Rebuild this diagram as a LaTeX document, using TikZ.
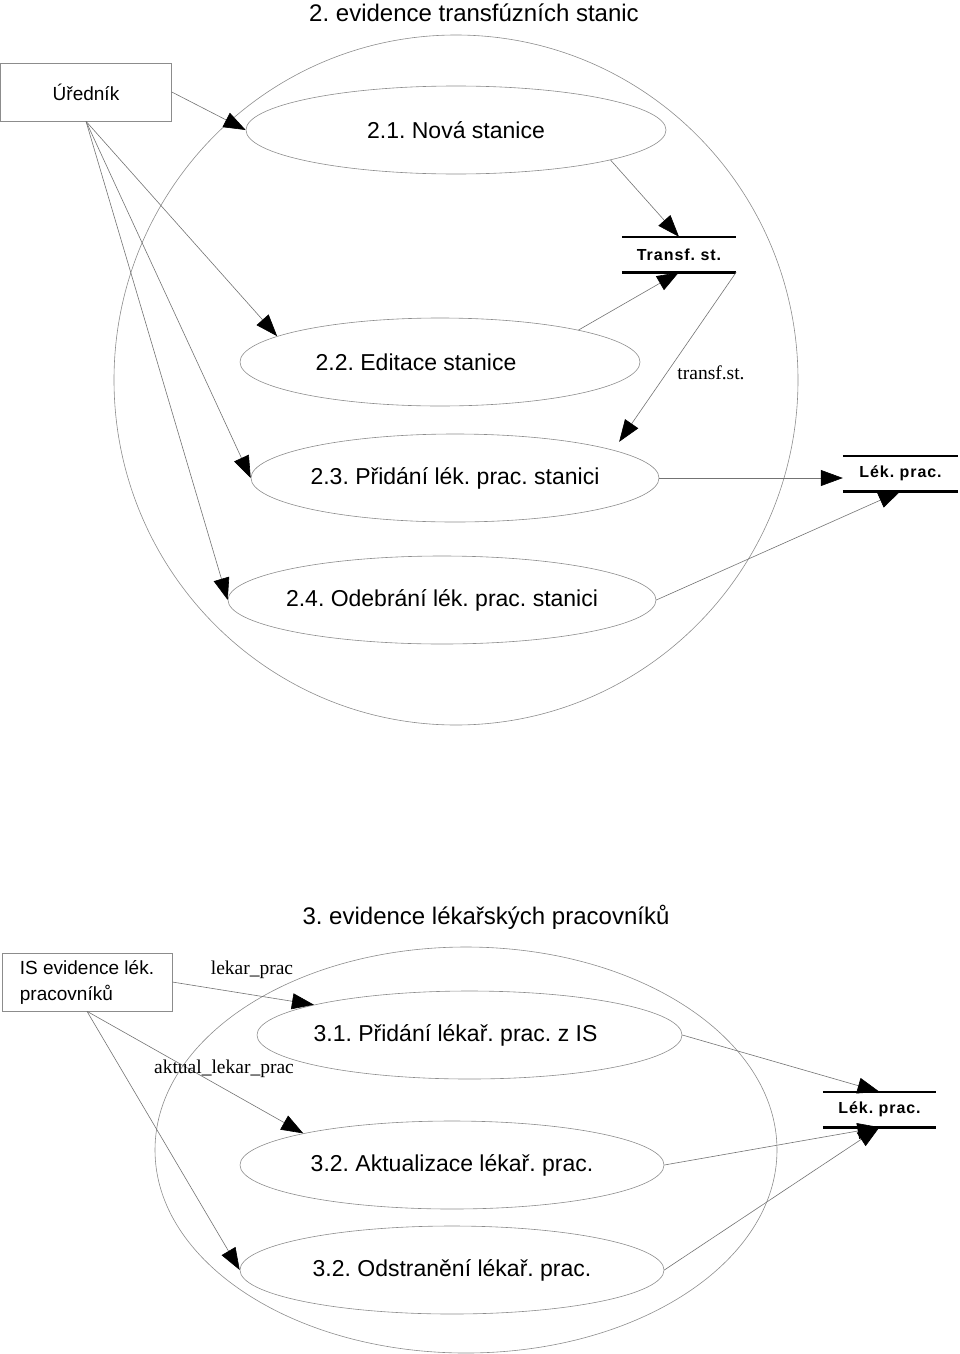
\documentclass[tikz,border=0pt]{standalone}
\usepackage{fontspec}
\setmainfont{Liberation Sans}
\newfontfamily\labelserif{Liberation Serif}
\usetikzlibrary{shapes.geometric,arrows.meta}
\frenchspacing
\begin{document}
\frenchspacing
\begin{tikzpicture}[x=1pt,y=-1pt,
  proc/.style={draw=black!45, line width=0.6pt, ellipse, inner sep=0pt, minimum height=88pt, font=\fontsize{23}{27}\selectfont},
  bigc/.style={draw=black!45, line width=0.6pt, ellipse, inner sep=0pt},
  ext/.style={draw=black!45, line width=0.6pt, rectangle, inner sep=0pt},
  store/.style={inner sep=0pt, minimum height=35pt, font=\fontsize{16}{19}\selectfont\bfseries\addfontfeatures{LetterSpace=6}},
  storeline/.style={line width=2.6pt, black},
  flow/.style={draw=black!55, line width=0.6pt, -{Triangle[length=22pt,width=16pt,color=black]}},
  flabel/.style={font=\labelserif\fontsize{19.5}{22}\selectfont, inner sep=0pt},
  title/.style={font=\fontsize{24}{28}\selectfont, inner sep=0pt}
]
\useasboundingbox (0,0) rectangle (960,1354);

% ---------- part 2 ----------
\node[title] (t2) at (474,13) {2. evidence transfúzních stanic};
\node[bigc, minimum width=684pt, minimum height=690pt] (sys2) at (456,380) {};
\node[ext, minimum width=171pt, minimum height=58pt, font=\fontsize{19}{23}\selectfont] (u) at (86,92) {Úředník};

\node[proc, minimum width=420pt] (e21) at (456,130) {\makebox[0pt]{2.1. Nová stanice}};
\node[proc, minimum width=400pt] (e22) at (440,362) {\makebox[0pt]{\kern-48pt 2.2. Editace stanice}};
\node[proc, minimum width=408pt] (e23) at (455,478) {\makebox[0pt]{2.3. Přidání lék. prac. stanici}};
\node[proc, minimum width=428pt] (e24) at (442,600) {\makebox[0pt]{2.4. Odebrání lék. prac. stanici}};

\node[store, minimum width=114pt] (ts) at (679,254.5) {Transf. st.};
\draw[storeline] (ts.north west) -- (ts.north east);
\draw[storeline] (ts.south west) -- (ts.south east);
\node[store, minimum width=115pt] (lek1) at (900.5,473.5) {Lék. prac.};
\draw[storeline] (lek1.north west) -- (lek1.north east);
\draw[storeline] (lek1.south west) -- (lek1.south east);

\draw[flow] (u.east) -- (e21.west);
\draw[flow] (u.south) -- (e22.171);
\draw[flow] (u.south) -- (e23.west);
\draw[flow] (u.south) -- (e24.west);
\draw[flow] (e21.349) -- (ts.north);
\draw[flow] (e22.13) -- (ts.south);
\draw[flow, shorten >=10pt] (ts.south east) -- (e23.10);
\node[flabel] (l1) at (711,373) {transf.st.};
\draw[flow] (e23.east) -- (e23.east -| lek1.west);
\draw[flow] (e24.east) -- (lek1.south);

% ---------- part 3 ----------
\node[title] (t3) at (486,917) {3. evidence lékařských pracovníků};
\node[bigc, minimum width=622pt, minimum height=406pt] (sys3) at (466,1150) {};
\node[ext, minimum width=170pt, minimum height=58pt, align=left, font=\fontsize{19}{26}\selectfont] (is) at (87,982) {IS evidence lék.\\pracovníků};

\node[proc, minimum width=425pt] (e31) at (469.5,1035) {\makebox[0pt]{\kern-28pt 3.1. Přidání lékař. prac. z IS}};
\node[proc, minimum width=424pt] (e32) at (452,1165) {\makebox[0pt]{3.2. Aktualizace lékař. prac.}};
\node[proc, minimum width=424pt] (e33) at (452,1270) {\makebox[0pt]{3.2. Odstranění lékař. prac.}};

\node[store, minimum width=113pt] (lek2) at (879.5,1109.5) {Lék. prac.};
\draw[storeline] (lek2.north west) -- (lek2.north east);
\draw[storeline] (lek2.south west) -- (lek2.south east);

\draw[flow] (is.east) -- (e31.169);
\node[flabel] (l2) at (252,970) {lekar\_prac};
\draw[flow] (is.south) -- (e32.168);
\node[flabel] (l3) at (224,1069) {aktual\_lekar\_prac};
\draw[flow] (is.south) -- (e33.west);
\draw[flow] (e31.east) -- (lek2.north);
\draw[flow] (e32.east) -- (lek2.south);
\draw[flow] (e33.east) -- (lek2.south);
\end{tikzpicture}
\end{document}
